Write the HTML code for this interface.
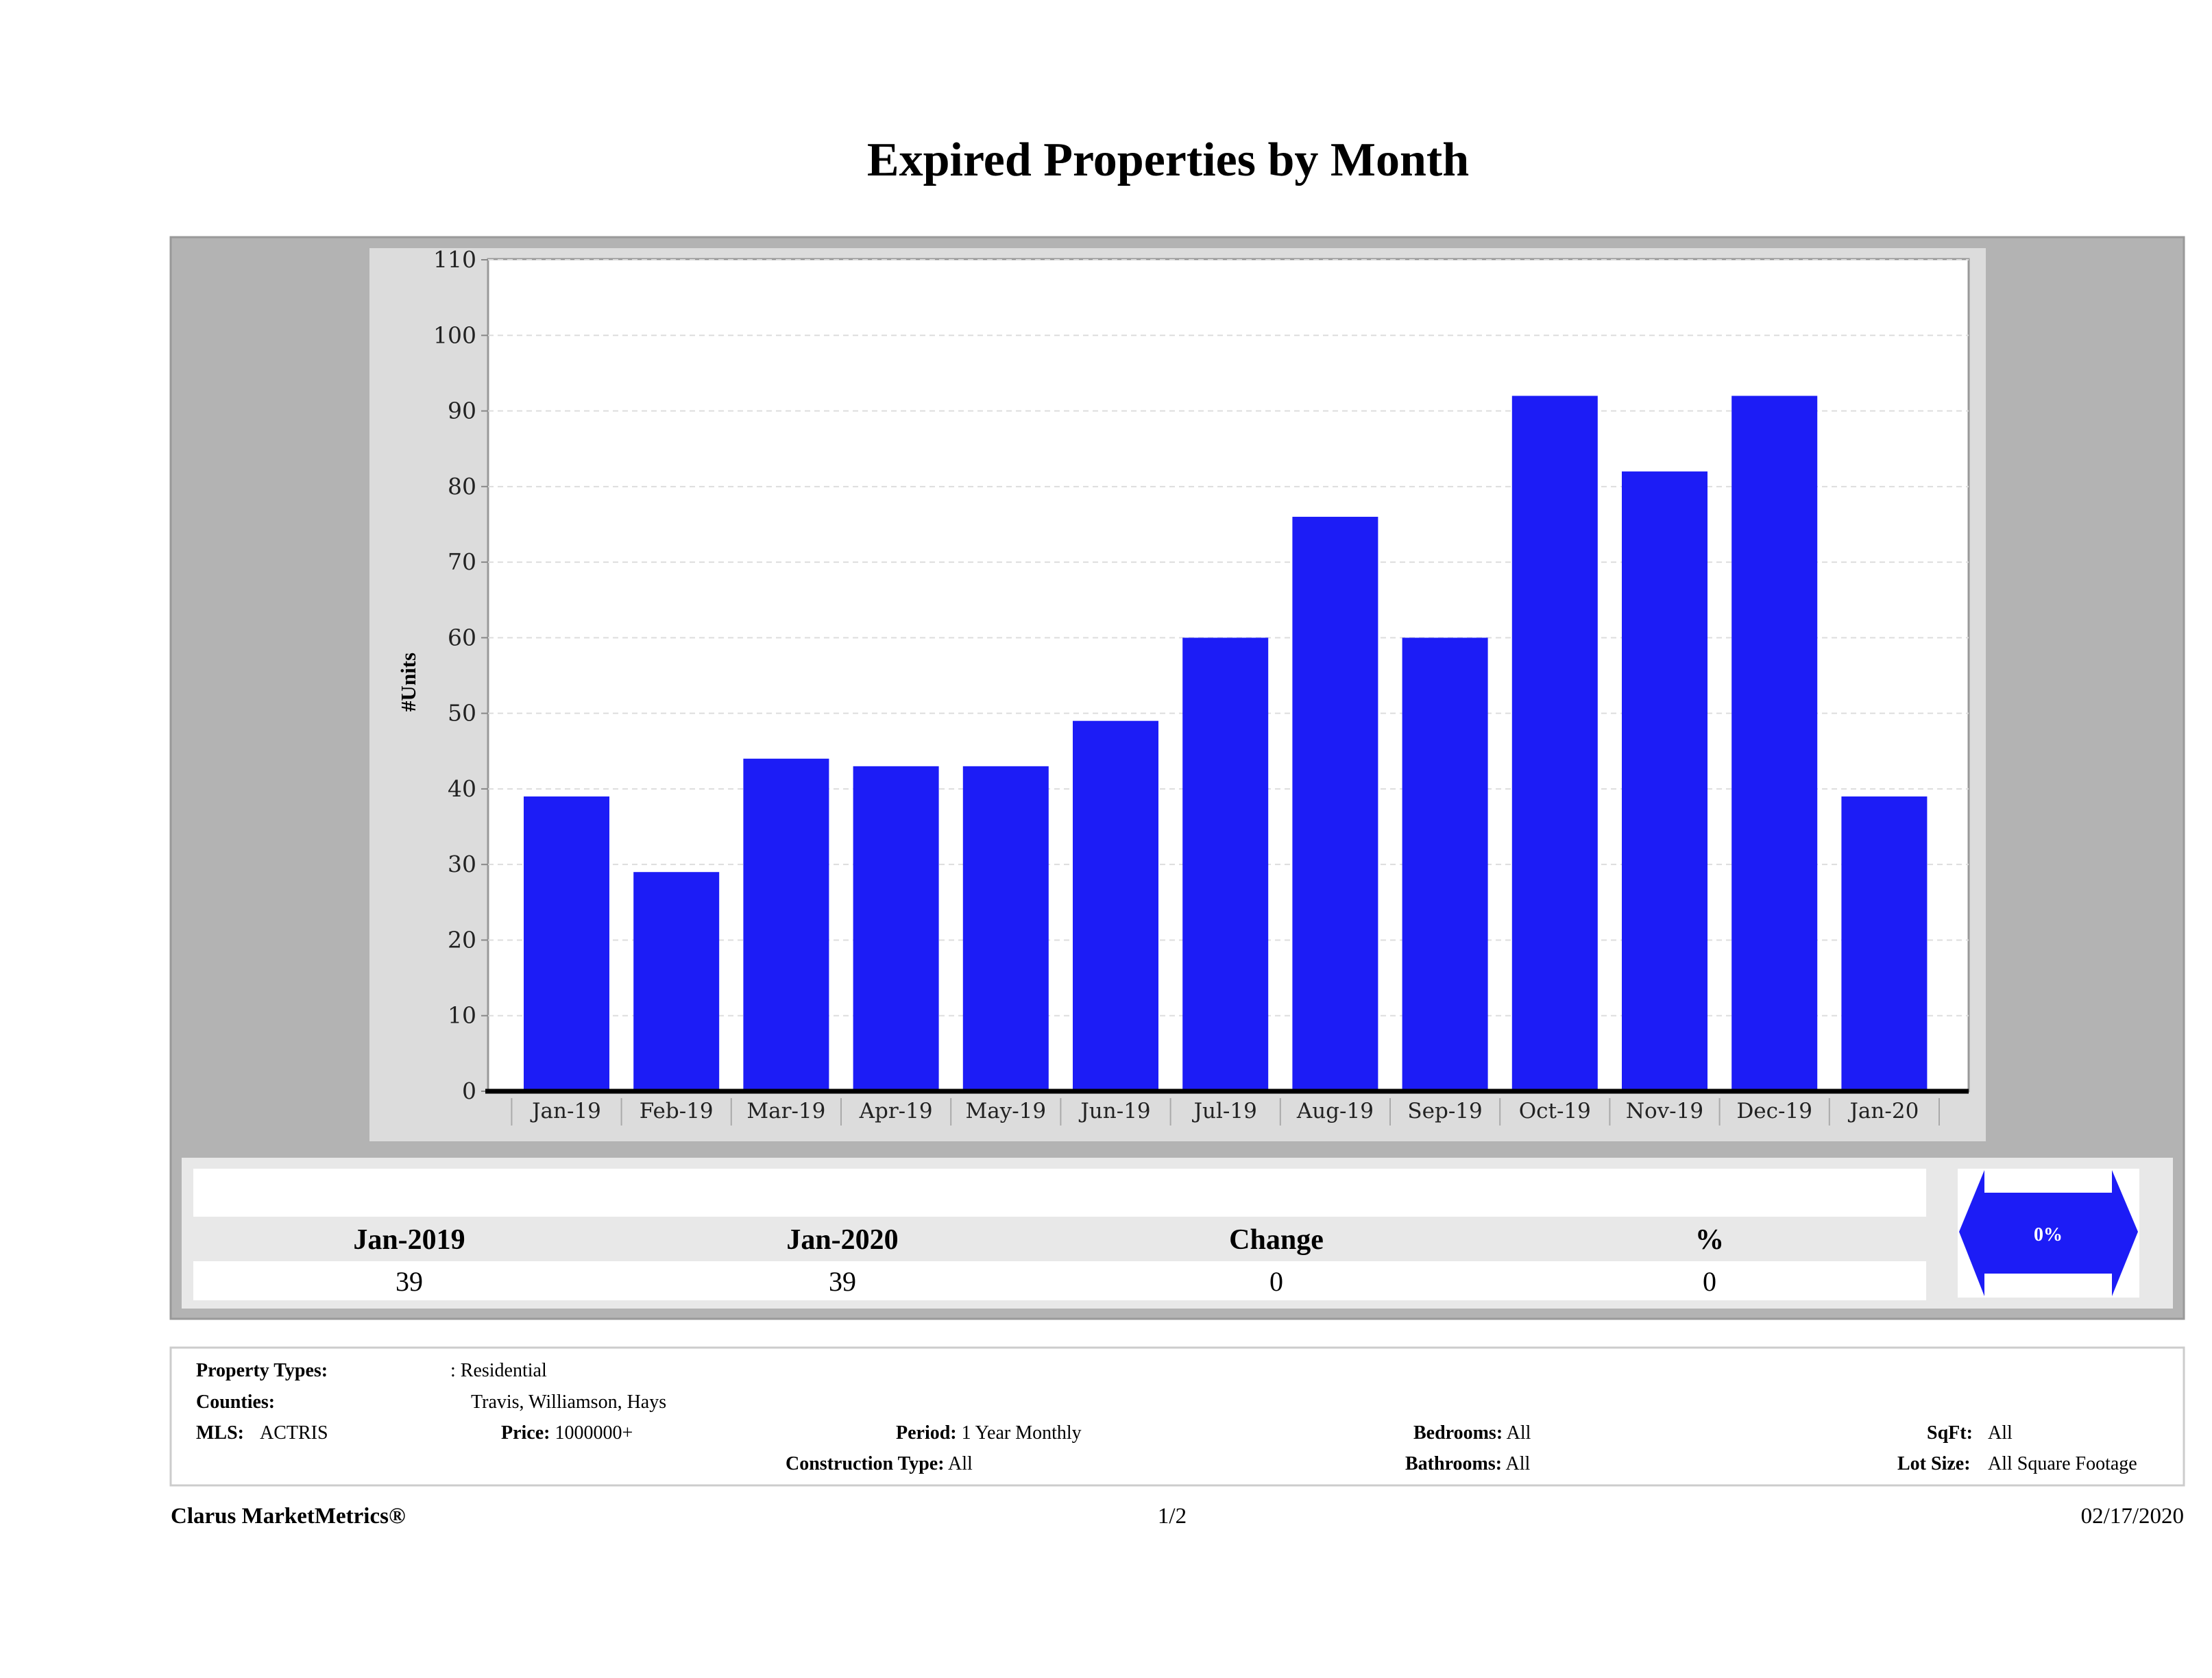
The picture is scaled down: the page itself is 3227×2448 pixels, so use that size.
<!DOCTYPE html>
<html><head><meta charset="utf-8"><style>
html,body{margin:0;padding:0;background:#fff;}
body{width:3227px;height:2448px;overflow:hidden;position:relative;font-family:"Liberation Serif",serif;}
svg{position:absolute;left:0;top:0;}
</style></head><body>
<svg id="s" width="3227" height="2448" viewBox="0 0 3227 2448" xmlns="http://www.w3.org/2000/svg" font-family="Liberation Serif, serif">
<text x="1704" y="256" text-anchor="middle" font-size="70" font-weight="bold" fill="#000">Expired Properties by Month</text>
<rect x="249" y="346" width="2937" height="1578" fill="#b3b3b3" stroke="#999" stroke-width="3"/>
<rect x="539" y="362" width="2358" height="1303" fill="#dcdcdc"/>
<rect x="712" y="378" width="2160" height="1214" fill="#fff" stroke="#999" stroke-width="3"/>
<g id="grid"></g><g id="bars"></g><g id="axes"></g>
<text transform="translate(606,995) rotate(-90)" text-anchor="middle" font-size="31" font-weight="bold">#Units</text>
<rect x="265" y="1689" width="2905" height="220" fill="#e8e8e8"/>
<rect x="282" y="1705" width="2528" height="70" fill="#fff"/>
<rect x="282" y="1840" width="2528" height="57" fill="#fff"/>
<g font-size="42" font-weight="bold" text-anchor="middle">
<text x="597" y="1822">Jan-2019</text>
<text x="1229" y="1822">Jan-2020</text>
<text x="1862" y="1822">Change</text>
<text x="2494" y="1822">%</text>
</g>
<g font-size="40" text-anchor="middle">
<text x="597" y="1883">39</text>
<text x="1229" y="1883">39</text>
<text x="1862" y="1883">0</text>
<text x="2494" y="1883">0</text>
</g>
<rect x="2856" y="1705" width="265" height="188" fill="#fff"/>
<polygon points="2858,1797 2895,1707 2895,1740 3081,1740 3081,1707 3119,1797 3081,1891 3081,1858 2895,1858 2895,1891" fill="#1c1cf6"/>
<text x="2988" y="1810" text-anchor="middle" font-size="28" font-weight="bold" fill="#fff">0%</text>
<rect x="249" y="1966" width="2937" height="201" fill="#fff" stroke="#ccc" stroke-width="3"/>
<g font-size="28">
<text x="286" y="2008"><tspan font-weight="bold">Property Types:</tspan></text>
<text x="657" y="2008">: Residential</text>
<text x="286" y="2054" font-weight="bold">Counties:</text>
<text x="687" y="2054">Travis, Williamson, Hays</text>
<text x="286" y="2099"><tspan font-weight="bold">MLS:</tspan><tspan x="379">ACTRIS</tspan></text>
<text x="731" y="2099"><tspan font-weight="bold">Price:</tspan> 1000000+</text>
<text x="1307" y="2099"><tspan font-weight="bold">Period:</tspan> 1 Year Monthly</text>
<text x="1146" y="2144"><tspan font-weight="bold">Construction Type:</tspan> All</text>
<text x="2062" y="2099"><tspan font-weight="bold">Bedrooms:</tspan> All</text>
<text x="2050" y="2144"><tspan font-weight="bold">Bathrooms:</tspan> All</text>
<text x="2811" y="2099"><tspan font-weight="bold">SqFt:</tspan><tspan x="2900">All</tspan></text>
<text x="2768" y="2144"><tspan font-weight="bold">Lot Size:</tspan><tspan x="2900">All Square Footage</tspan></text>
</g>
<g font-size="33">
<text x="249" y="2222" font-weight="bold">Clarus MarketMetrics®</text>
<text x="1710" y="2222" text-anchor="middle">1/2</text>
<text x="3186" y="2222" text-anchor="end">02/17/2020</text>
</g>
</svg>
<script>
const categories = ["Jan-19","Feb-19","Mar-19","Apr-19","May-19","Jun-19","Jul-19","Aug-19","Sep-19","Oct-19","Nov-19","Dec-19","Jan-20"];
const values = [39,29,44,43,43,49,60,76,60,92,82,92,39];
const yTicks = [0,10,20,30,40,50,60,70,80,90,100,110];
const NS="http://www.w3.org/2000/svg";
const plotL=712, plotR=2872, y0=1592, y110=379, yMax=110;
const firstBar=764, step=160.2, barW=125;
function yScale(v){return y0-(v/yMax)*(y0-y110);}
function xScale(i){return firstBar+i*step;}
function mk(tag,attrs,parent){const e=document.createElementNS(NS,tag);for(const k in attrs)e.setAttribute(k,attrs[k]);parent.appendChild(e);return e;}
const grid=document.getElementById('grid'), bars=document.getElementById('bars'), axes=document.getElementById('axes');
yTicks.forEach(t=>{
  const y=yScale(t);
  if(t>0){const g=mk('line',{x1:plotL,x2:plotR,y1:y,y2:y,stroke:'#ddd','stroke-width':2,'stroke-dasharray':'8,6'},grid);
  
  }
  const tk=mk('line',{x1:plotL-10,x2:plotL,y1:y,y2:y,stroke:'#888','stroke-width':2},axes);
  
  
  const tx=mk('text',{x:plotL-17,y:y+11,'text-anchor':'end','font-size':33,'font-family':'DejaVu Serif, serif',fill:'#222'},axes);
  tx.textContent=t;
  
  
});
values.forEach((v,i)=>{
  const x=xScale(i), y=yScale(v);
  const r=mk('rect',{x:x,y:y,width:barW,height:y0-y,fill:'#1c1cf6'},bars);
  
  
  const sx=x-(step-barW)/2;
  const sep=mk('line',{x1:sx,x2:sx,y1:1602,y2:1642,stroke:'#aaa','stroke-width':2},axes);
  
  
  const lb=mk('text',{x:x+barW/2,y:1631,'text-anchor':'middle','font-size':31,'font-family':'DejaVu Serif, serif',fill:'#222'},axes);
  lb.textContent=categories[i];
  
  
});
const lastSep=mk('line',{x1:xScale(categories.length)-(step-barW)/2,x2:xScale(categories.length)-(step-barW)/2,y1:1602,y2:1642,stroke:'#aaa','stroke-width':2},axes);


const base=mk('line',{x1:plotL-4,x2:plotR,y1:y0,y2:y0,stroke:'#000','stroke-width':7},axes);


</script>
</body></html>
